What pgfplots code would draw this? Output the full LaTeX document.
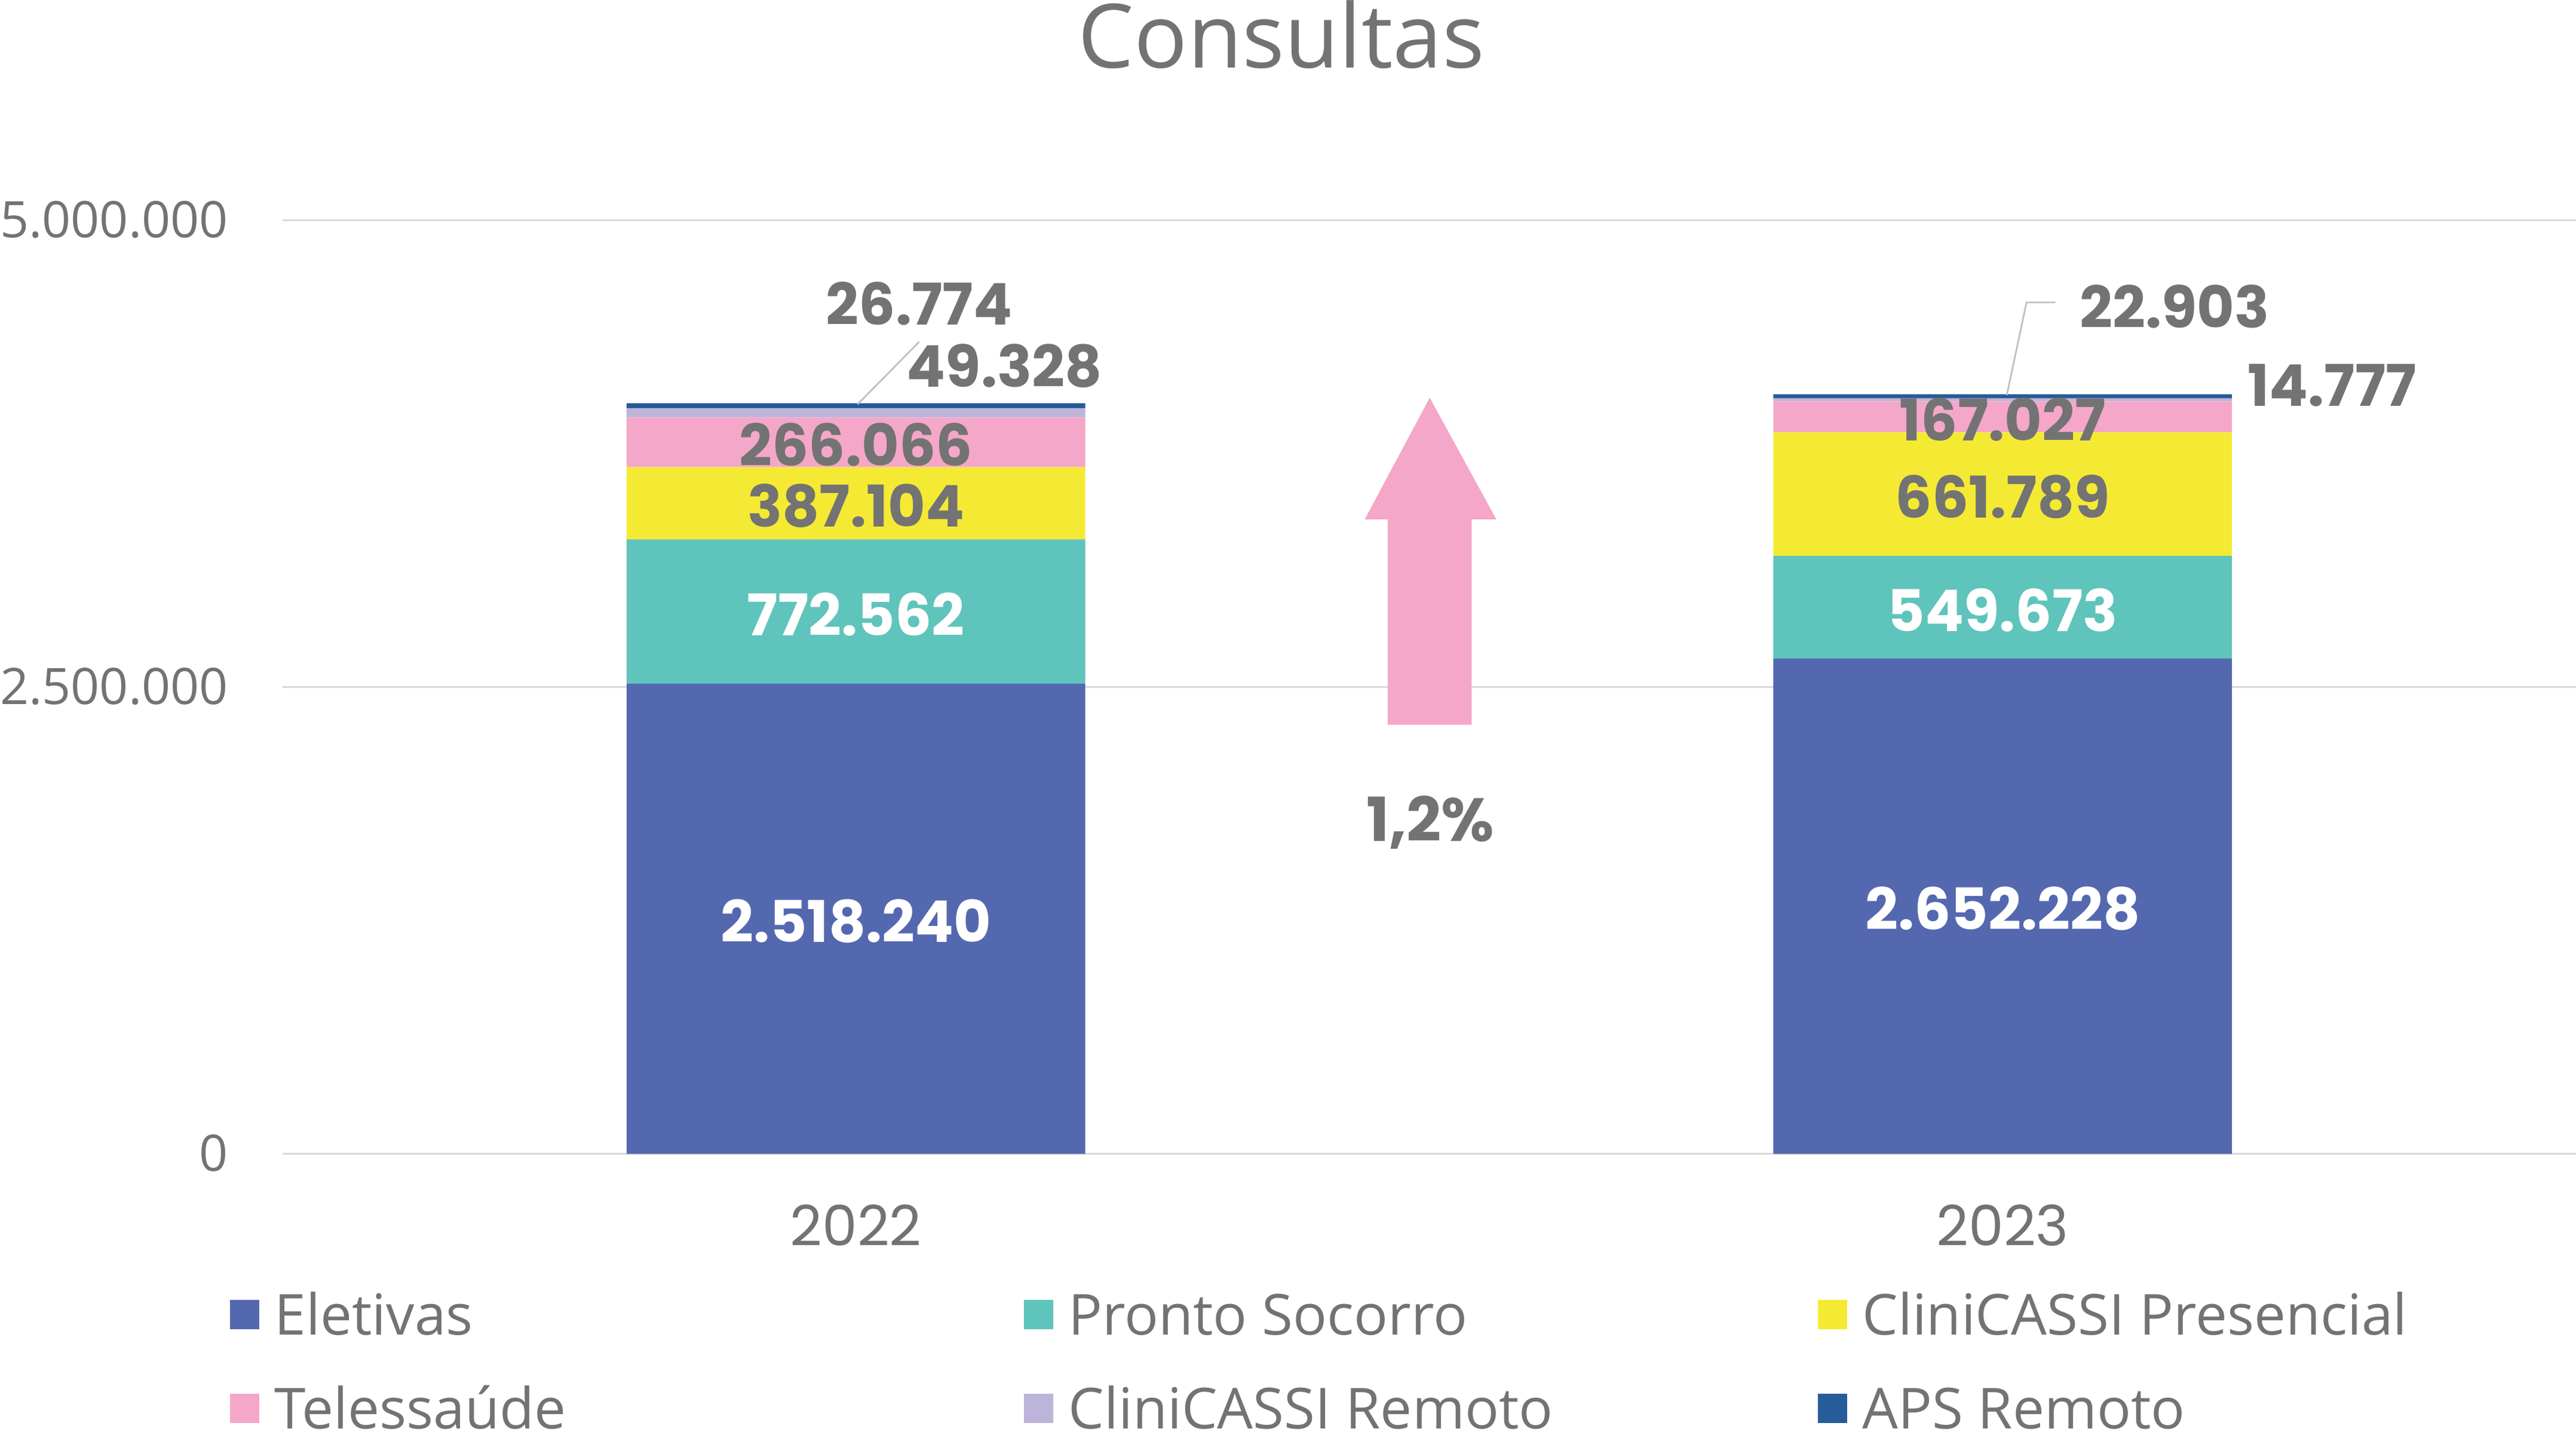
\documentclass[border=0pt]{standalone}
\usepackage{fontspec}
\setmainfont{Open Sans}
\newfontfamily\pop{Poppins}
\usepackage{pgfplots}
\usepackage{pgfplotstable}
\pgfplotsset{compat=1.18}

\definecolor{eletivas}{HTML}{5468B0}
\definecolor{pronto}{HTML}{5FC4BB}
\definecolor{presencial}{HTML}{F5EA33}
\definecolor{tele}{HTML}{F4A7C8}
\definecolor{remoto}{HTML}{BDB5D9}
\definecolor{aps}{HTML}{255C99}
\definecolor{txt}{HTML}{737373}
\definecolor{gridc}{HTML}{D9D9D9}
\definecolor{leader}{HTML}{BFBFBF}

\newcommand\lbl{\pop\bfseries\fontsize{17.5bp}{20bp}\selectfont}

% consultas por tipo, 2022 (x=0) e 2023 (x=1)
\pgfplotstableread{
x eletivas pronto presencial tele remoto aps
0 2518240 772562 387104 266066 49328 26774
1 2652228 549673 661789 167027 14777 22903
}\consultas

% rotulos: centro de cada segmento
\pgfplotstableread{
x y label
0 1259120 2.518.240
0 2904521 772.562
1 1326114 2.652.228
1 2927065 549.673
}\brancos
\pgfplotstableread{
x y label
0 3484354 387.104
0 3810939 266.066
1 3532796 661.789
1 3947204 167.027
0.0552 4569000 26.774
}\cinzas
% rotulos fora da barra (ancorados a esquerda)
\pgfplotstableread{
x y label
0.0437 4234000 49.328
1.0667 4551000 22.903
1.2131 4129000 14.777
}\fora

\begin{document}
\begin{tikzpicture}
\begin{axis}[
    at={(0,0)}, anchor=south west,
    width=698bp, height=284bp, scale only axis,
    ybar stacked, bar width=0.4,
    xmin=-0.5, xmax=1.5, ymin=0, ymax=5000000,
    xtick={0,1}, xticklabels={2022,2023},
    ytick={0,2500000,5000000}, yticklabels={0,2.500.000,5.000.000},
    scaled y ticks=false,
    ymajorgrids, grid style={gridc, line width=0.6bp},
    axis line style={draw=none}, major tick length=0pt,
    tick label style={txt},
    yticklabel style={font=\fontsize{15.3bp}{18bp}\selectfont, anchor=base east,
        inner sep=0pt, xshift=-16.4bp, yshift=-5.2bp},
    xticklabel style={font=\pop\fontsize{17bp}{20bp}\selectfont, anchor=base,
        inner sep=0pt, yshift=-28bp},
    title={Consultas},
    title style={font=\fontsize{27bp}{32bp}\selectfont, txt, at={(0.4355,1.1419)},
        anchor=base, inner sep=0pt},
    legend columns=3, legend cell align=left,
    legend style={at={(-0.02292,-0.1504)}, anchor=north west, draw=none, fill=none,
        inner sep=0pt, outer sep=0pt, row sep=16.3bp, column sep=0pt,
        font=\fontsize{17.2bp}{20bp}\selectfont, text=txt,
        nodes={inner sep=0pt, outer sep=0pt, text height=12.3bp, text depth=0pt},
        /tikz/every odd column/.style={column sep=4.7bp}},
    legend image code/.code={\fill[#1,draw=none] (0bp,-4.45bp) rectangle (8.9bp,4.45bp);},
]
\addplot[fill=eletivas, draw=none] table[x=x, y=eletivas] {\consultas};
\addlegendentry{\makebox[228bp][l]{Eletivas}}
\addplot[fill=pronto, draw=none] table[x=x, y=pronto] {\consultas};
\addlegendentry{\makebox[228bp][l]{Pronto Socorro}}
\addplot[fill=presencial, draw=none] table[x=x, y=presencial] {\consultas};
\addlegendentry{CliniCASSI Presencial}
\addplot[fill=tele, draw=none] table[x=x, y=tele] {\consultas};
\addlegendentry{\makebox[228bp][l]{Telessaúde}}
\addplot[fill=remoto, draw=none] table[x=x, y=remoto] {\consultas};
\addlegendentry{\makebox[228bp][l]{CliniCASSI Remoto}}
\addplot[fill=aps, draw=none] table[x=x, y=aps] {\consultas};
\addlegendentry{APS Remoto}
\end{axis}

\begin{axis}[
    at={(0,0)}, anchor=south west,
    width=698bp, height=284bp, scale only axis,
    xmin=-0.5, xmax=1.5, ymin=0, ymax=5000000,
    hide axis, clip=false,
]
% seta de variacao
\fill[tele] (axis cs:0.4638,2298000) -- (axis cs:0.4638,3398000)
    -- (axis cs:0.4437,3398000) -- (axis cs:0.5004,4049000)
    -- (axis cs:0.5584,3398000) -- (axis cs:0.5369,3398000)
    -- (axis cs:0.5369,2298000) -- cycle;
\node[txt, font=\pop\bfseries\fontsize{18.5bp}{20bp}\selectfont, anchor=base, inner sep=0pt]
    at (axis cs:0.501,1672500) {1,2\%};
% linhas de chamada
\draw[leader, line width=0.5bp] (axis cs:0.0014,4014000) -- (axis cs:0.0552,4349000);
\draw[leader, line width=0.5bp] (axis cs:1.0036,4063000) -- (axis cs:1.0208,4560000)
    -- (axis cs:1.0459,4560000);
\addplot[only marks, mark=none, point meta=explicit symbolic, nodes near coords,
    nodes near coords style={font=\lbl, white, anchor=center, inner sep=0pt, yshift=-0.8bp}]
    table[x=x, y=y, meta=label] {\brancos};
\addplot[only marks, mark=none, point meta=explicit symbolic, nodes near coords,
    nodes near coords style={font=\lbl, txt, anchor=center, inner sep=0pt, yshift=-0.8bp}]
    table[x=x, y=y, meta=label] {\cinzas};
\addplot[only marks, mark=none, point meta=explicit symbolic, nodes near coords,
    nodes near coords style={font=\lbl, txt, anchor=west, inner sep=0pt, yshift=-0.8bp}]
    table[x=x, y=y, meta=label] {\fora};
\end{axis}
\pgfresetboundingbox
\useasboundingbox (-86bp,-85.5bp) rectangle (698bp,351bp);
\end{tikzpicture}
\end{document}
